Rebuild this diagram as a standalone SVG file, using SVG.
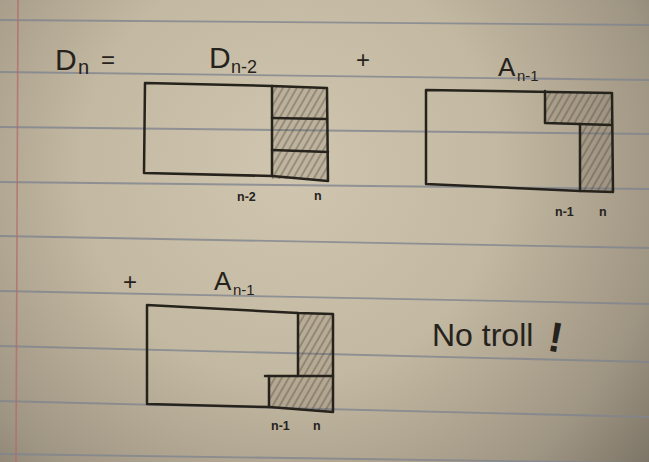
<svg xmlns="http://www.w3.org/2000/svg" width="649" height="462" viewBox="0 0 649 462">
<defs>
  <radialGradient id="paper" cx="290" cy="170" r="470" gradientUnits="userSpaceOnUse">
    <stop offset="0" stop-color="#d0c6af"/>
    <stop offset="0.45" stop-color="#c3b8a1"/>
    <stop offset="0.8" stop-color="#9f9583"/>
    <stop offset="1" stop-color="#7a7264"/>
  </radialGradient>
  <pattern id="hatch" patternUnits="userSpaceOnUse" width="6" height="6" patternTransform="rotate(30)">
    <rect width="6" height="6" fill="#5a5040" fill-opacity="0.14"/>
    <line x1="1" y1="0" x2="1" y2="6" stroke="#4a4236" stroke-width="0.9" stroke-opacity="0.75"/>
  </pattern>
  <style>
    .rule { stroke: #80848f; stroke-width: 1.8; fill: none; stroke-opacity: 0.8; }
    .ink { stroke: #26221c; stroke-width: 2.5; fill: none; stroke-linecap: round; stroke-linejoin: round; }
    .big { font-family: "Liberation Sans", "DejaVu Sans", sans-serif; fill: #26221c; }
    .sm { font-family: "Liberation Sans", "DejaVu Sans", sans-serif; fill: #26221c; font-size: 12.5px; font-weight: bold; }
  </style>
</defs>

<g id="paper-bg">
  <rect width="649" height="462" fill="url(#paper)"/>
  <path class="rule" d="M0 20 L649 25"/>
  <path class="rule" d="M0 72 L649 80"/>
  <path class="rule" d="M0 127 L649 134"/>
  <path class="rule" d="M0 182 L649 189"/>
  <path class="rule" d="M0 236 L649 248"/>
  <path class="rule" d="M0 291 L649 304"/>
  <path class="rule" d="M0 346 L649 362"/>
  <path class="rule" d="M0 401 L649 417"/>
  <path class="rule" d="M0 454 L649 463"/>
  <path d="M18 0 L16 462" stroke="#b56a6a" stroke-width="1.6" stroke-opacity="0.75" fill="none"/>
</g>

<g id="equation-top">
  <text class="big" x="55" y="70" font-size="30">D</text>
  <text class="big" x="78" y="74" font-size="20">n</text>
  <text class="big" x="101" y="68" font-size="24">=</text>
  <text class="big" x="209" y="68" font-size="30">D</text>
  <text class="big" x="231" y="73" font-size="18">n-2</text>
  <text class="big" x="356" y="68" font-size="24">+</text>
  <text class="big" x="498" y="76" font-size="26">A</text>
  <text class="big" x="517" y="81" font-size="15">n-1</text>
</g>

<g id="box-d">
  <rect x="272" y="87" width="55" height="92" fill="url(#hatch)"/>
  <path class="ink" d="M145 83 L272 86 L327 88 L328 181 L272 176 L144 173 Z"/>
  <path class="ink" d="M272 86 L272 176"/>
  <path class="ink" d="M272 118 L327 119"/>
  <path class="ink" d="M272 150 L328 152"/>
  <text class="sm" x="237" y="201">n-2</text>
  <text class="sm" x="314" y="200">n</text>
</g>

<g id="box-a1">
  <path d="M545 91 L612 93 L612 125 L545 123 Z" fill="url(#hatch)"/>
  <path d="M580 124 L612 125 L613 192 L580 191 Z" fill="url(#hatch)"/>
  <path class="ink" d="M426 90 L612 93 L613 192 L580 191 L426 184 Z"/>
  <path class="ink" d="M545 91 L545 123 L612 125"/>
  <path class="ink" d="M580 124 L580 191"/>
  <text class="sm" x="555" y="216">n-1</text>
  <text class="sm" x="599" y="216">n</text>
</g>

<g id="equation-bottom">
  <text class="big" x="123" y="290" font-size="24">+</text>
  <text class="big" x="214" y="290" font-size="26">A</text>
  <text class="big" x="233" y="295" font-size="15">n-1</text>
</g>

<g id="box-a2">
  <path d="M298 313 L333 314 L333 376 L298 376 Z" fill="url(#hatch)"/>
  <path d="M269 376 L333 376 L333 412 L269 407 Z" fill="url(#hatch)"/>
  <path class="ink" d="M147 305 L298 313 L333 314 L333 412 L269 407 L147 404 Z"/>
  <path class="ink" d="M298 313 L298 376"/>
  <path class="ink" d="M265 376 L333 376"/>
  <path class="ink" d="M269 376 L269 407"/>
  <text class="sm" x="271" y="430">n-1</text>
  <text class="sm" x="313" y="430">n</text>
</g>

<g id="note">
  <text class="big" x="432" y="346" font-size="32">No troll</text>
  <text class="big" x="549" y="352" font-size="42" font-weight="bold" transform="rotate(10 558 335)">!</text>
</g>
</svg>
